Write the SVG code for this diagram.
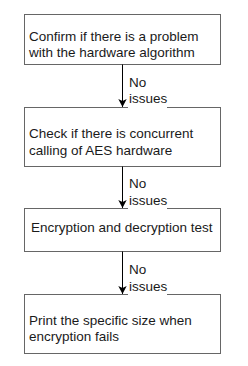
<svg xmlns="http://www.w3.org/2000/svg" width="248" height="366" viewBox="0 0 248 366">
<style>
.box{fill:#fff;stroke:#666;stroke-width:1}
.t{font-family:"Liberation Sans",Arial,sans-serif;font-size:13.5px;fill:#1a1a1a}
.lbl{font-family:"Liberation Sans",Arial,sans-serif;font-size:13.5px;fill:#1a1a1a}
.edge{stroke:#000;stroke-width:1;fill:none}
.bg{fill:#fff}
</style>
<defs>
<marker id="arr" markerWidth="8" markerHeight="10" refX="8" refY="5" orient="auto" markerUnits="userSpaceOnUse">
<path d="M0,0.8 L8,5 L0,9.2 L2,5 Z" fill="#000"/>
</marker>
</defs>
<rect width="248" height="366" fill="#fff"/>
<g id="n1">
<rect class="box" x="24.5" y="14.5" width="196" height="50"/>
<text class="t" x="29" y="40.5">Confirm if there is a problem</text>
<text class="t" x="29" y="57.3">with the hardware algorithm</text>
</g>
<g id="n2">
<rect class="box" x="24.5" y="107.5" width="196" height="59"/>
<text class="t" x="29" y="138.3">Check if there is concurrent</text>
<text class="t" x="29" y="155">calling of AES hardware</text>
</g>
<g id="n3">
<rect class="box" x="24.5" y="208.5" width="196" height="43"/>
<text class="t" x="31" y="231.7">Encryption and decryption test</text>
</g>
<g id="n4">
<rect class="box" x="24.5" y="294.5" width="196" height="59"/>
<text class="t" x="29" y="325">Print the specific size when</text>
<text class="t" x="29" y="341">encryption fails</text>
</g>
<g id="edges">
<line class="edge" x1="122.5" y1="64.5" x2="122.5" y2="107" marker-end="url(#arr)"/>
<rect class="bg" x="128" y="75" width="39" height="33"/>
<text class="lbl" x="129" y="87.3">No</text>
<text class="lbl" x="129" y="103.3">issues</text>
<line class="edge" x1="122.5" y1="166.5" x2="122.5" y2="208" marker-end="url(#arr)"/>
<rect class="bg" x="128" y="176" width="39" height="33"/>
<text class="lbl" x="129" y="188.3">No</text>
<text class="lbl" x="129" y="205">issues</text>
<line class="edge" x1="122.5" y1="251.5" x2="122.5" y2="294" marker-end="url(#arr)"/>
<rect class="bg" x="128" y="262" width="39" height="33"/>
<text class="lbl" x="129" y="274">No</text>
<text class="lbl" x="129" y="290.7">issues</text>
</g>
</svg>
